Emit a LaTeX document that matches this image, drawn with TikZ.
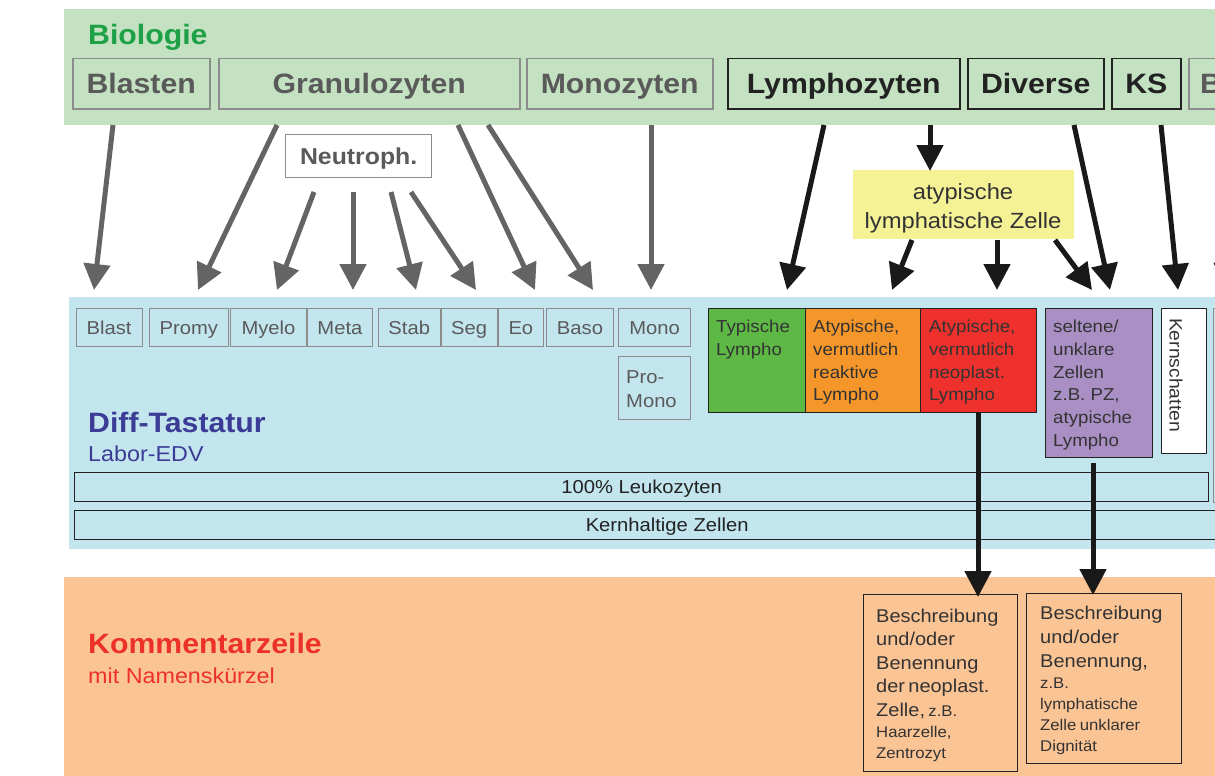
\documentclass[tikz,border=0pt]{standalone}
\usepackage{fontspec}
\setmainfont{Liberation Sans}[FakeStretch=1.08]
\usetikzlibrary{arrows.meta}
\definecolor{gband}{RGB}{196,226,193}
\definecolor{bband}{RGB}{194,229,238}
\definecolor{oband}{RGB}{251,196,149}
\definecolor{bioc}{RGB}{30,160,70}
\definecolor{diffc}{RGB}{60,60,150}
\definecolor{komc}{RGB}{236,50,40}
\definecolor{gtext}{RGB}{90,90,90}
\definecolor{gline}{RGB}{140,140,140}
\definecolor{dtext}{RGB}{34,34,34}
\definecolor{arrg}{RGB}{100,100,100}
\definecolor{arrk}{RGB}{25,25,25}
\definecolor{cgreen}{RGB}{94,184,70}
\definecolor{corange}{RGB}{245,150,42}
\definecolor{cred}{RGB}{238,49,44}
\definecolor{cpurple}{RGB}{169,143,196}
\definecolor{cyellow}{RGB}{245,242,150}
\definecolor{boxt}{RGB}{51,51,51}
\newcommand\myfs[2]{\fontsize{#1}{#2}\selectfont}
\begin{document}
\begin{tikzpicture}[x=1pt,y=-1pt,
  bigbox/.style={draw=gline, line width=1.5pt, inner sep=0pt, anchor=north west,
     font=\myfs{28}{32}\bfseries, text=gtext, text height=20pt, text depth=0pt},
  bigdark/.style={bigbox, draw=dtext, text=dtext},
  smallbox/.style={draw=gline, line width=1.3pt, inner sep=0pt, anchor=north west,
     font=\myfs{18.7}{22}, text=gtext, text height=13.4pt, text depth=0pt},
  barbox/.style={draw=dtext, line width=1.3pt, inner sep=0pt, anchor=north west,
     font=\myfs{18.7}{22}, text=dtext, text height=13.4pt, text depth=0pt},
  colbox/.style={draw=dtext, line width=1.3pt, inner sep=0pt, anchor=north west},
  coltext/.style={inner sep=0pt, anchor=north west, align=left,
     font=\myfs{17.3}{22.7}, text=boxt},
  komtext/.style={inner sep=0pt, anchor=north west, align=left, text width=150pt, text=boxt},
  title/.style={inner sep=0pt, anchor=base west, font=\myfs{28}{32}\bfseries},
  subtitle/.style={inner sep=0pt, anchor=base west, font=\myfs{21.6}{25}},
  garrow/.style={draw=arrg, line width=5pt, -{Triangle[width=26pt,length=26pt]}},
  karrow/.style={draw=arrk, line width=5pt, -{Triangle[width=26pt,length=26pt]}},
]
\useasboundingbox (0,0) rectangle (1215,776);
\clip (0,0) rectangle (1215,776);

% bands
\fill[gband] (64,9) rectangle (1270,125);
\fill[bband] (69,297) rectangle (1270,549);
\fill[oband] (64,577) rectangle (1270,790);

% Biologie
\node[title, text=bioc] (bio) at (88,45) {Biologie};
\node[bigbox, minimum width=137pt, minimum height=50pt] (blasten) at (72,58) {Blasten};
\node[bigbox, minimum width=301pt, minimum height=50pt] (granu) at (218,58) {Granulozyten};
\node[bigbox, minimum width=186pt, minimum height=50pt] (mono) at (526,58) {Monozyten};
\node[bigdark, minimum width=232pt, minimum height=50pt] (lympho) at (727,58) {Lymphozyten};
\node[bigdark, minimum width=136pt, minimum height=50pt] (diverse) at (967,58) {Diverse};
\node[bigdark, minimum width=69pt, minimum height=50pt] (ks) at (1111,58) {KS};
\node[bigbox, minimum width=80pt, minimum height=50pt] (bcut) at (1188,58) {};
\node[title, text=gtext] (bcuttext) at (1200,93.4) {B};

% Neutroph
\node[draw=gline, line width=1.3pt, fill=white, inner sep=0pt, anchor=north west,
  minimum width=146pt, minimum height=43pt, font=\myfs{23}{26}\bfseries, text=gtext,
  text height=16.5pt, text depth=0pt] (neutro) at (285,134) {Neutroph.};

% yellow box
\node[fill=cyellow, inner sep=0pt, anchor=north west, minimum width=221pt, minimum height=69pt] (yel) at (853,170) {};
\node[inner sep=0pt, anchor=north, align=center, font=\myfs{22}{29}, text=boxt] (yeltxt) at (963,183.5) {atypische\\lymphatische Zelle};

% Diff-Tastatur small boxes
\node[smallbox, minimum width=66pt, minimum height=38pt] (blast) at (75.5,308) {Blast};
\node[smallbox, minimum width=79pt, minimum height=38pt] (promy) at (148.6,308) {Promy};
\node[smallbox, minimum width=75.7pt, minimum height=38pt] (myelo) at (230,308) {Myelo};
\node[smallbox, minimum width=65.5pt, minimum height=38pt] (meta) at (306.5,308) {Meta};
\node[smallbox, minimum width=62pt, minimum height=38pt] (stab) at (377.6,308) {Stab};
\node[smallbox, minimum width=56.3pt, minimum height=38pt] (seg) at (440.4,308) {Seg};
\node[smallbox, minimum width=45.4pt, minimum height=38pt] (eo) at (497.5,308) {Eo};
\node[smallbox, minimum width=67.3pt, minimum height=38pt] (baso) at (545.7,308) {Baso};
\node[smallbox, minimum width=72pt, minimum height=38pt] (monok) at (618,308) {Mono};
\node[smallbox, minimum width=72pt, minimum height=63pt] (promono) at (618,356) {};
\node[inner sep=0pt, anchor=north west, align=left, font=\myfs{18.7}{24}, text=gtext] (promonotxt) at (626,370.6) {Pro-\\Mono};

% lympho coloured boxes
\node[colbox, fill=cgreen, minimum width=97pt, minimum height=104pt] (typ) at (708,308) {};
\node[colbox, fill=corange, minimum width=115pt, minimum height=104pt] (reakt) at (805,308) {};
\node[colbox, fill=cred, minimum width=116pt, minimum height=104pt] (red) at (920,308) {};
\node[colbox, fill=cpurple, minimum width=107pt, minimum height=149pt] (selten) at (1045,308) {};
\node[colbox, fill=white, minimum width=45pt, minimum height=145pt] (ksch) at (1161,308) {};
\node[draw=gline, line width=1.3pt, inner sep=0pt, anchor=north west, minimum width=60pt, minimum height=194pt] (cutbox) at (1213,308) {};
\node[coltext] (typtxt) at (716,320) {Typische\\Lympho};
\node[coltext] (reakttxt) at (813,320) {Atypische,\\vermutlich\\reaktive\\Lympho};
\node[coltext] (redtxt) at (929,320) {Atypische,\\vermutlich\\neoplast.\\Lympho};
\node[coltext] (seltentxt) at (1053,320) {seltene/\\unklare\\Zellen\\z.B. PZ,\\atypische\\Lympho};
\node[inner sep=0pt, rotate=-90, font=\myfs{17.9}{20}, text=boxt, text height=12.8pt, text depth=0pt] (kschtxt) at (1176,375) {Kernschatten};

% Diff-Tastatur label
\node[title, text=diffc] (diff) at (88,432) {Diff-Tastatur};
\node[subtitle, text=diffc] (labor) at (88,461) {Labor-EDV};

% bars
\node[barbox, minimum width=1134pt, minimum height=29pt] (leuko) at (74,472) {100\% Leukozyten};
\node[barbox, minimum width=1185pt, minimum height=29pt] (kernh) at (74,510) {Kernhaltige Zellen};

% Kommentarzeile
\node[title, text=komc] (kom) at (88,653) {Kommentarzeile};
\node[subtitle, text=komc] (komsub) at (88,683) {mit Namenskürzel};
\node[colbox, minimum width=154pt, minimum height=177pt] (kom1) at (863,594) {};
\node[colbox, minimum width=155pt, minimum height=170pt] (kom2) at (1026,593) {};
\node[komtext] (kom1txt) at (876,608.8) {{\myfs{18.5}{23.5}Beschreibung\\und/oder\\Benennung\\der neoplast.\\Zelle, {\myfs{15.5}{21}z.B.}\par}{\myfs{15.5}{21}Haarzelle,\\Zentrozyt\par}};
\node[komtext] (kom2txt) at (1040,605.8) {{\myfs{18.5}{24}Beschreibung\\und/oder\\Benennung,\par}{\myfs{15.5}{21}z.B.\\lymphatische\\Zelle unklarer\\Dignität\par}};

% coordinates for arrows
\coordinate (s1) at (113,125);  \coordinate (e1) at (94,290);
\coordinate (s2) at (277,125);  \coordinate (e2) at (198,290);
\coordinate (s3) at (314,192);  \coordinate (e3) at (277,290);
\coordinate (s4) at (353,192);  \coordinate (e4) at (353,290);
\coordinate (s5) at (391,192);  \coordinate (e5) at (416,290);
\coordinate (s6) at (411,192);  \coordinate (e6) at (476,290);
\coordinate (s7) at (458,125);  \coordinate (e7) at (535,290);
\coordinate (s8) at (488,125);  \coordinate (e8) at (593,290);
\coordinate (s9) at (651,125);  \coordinate (e9) at (651,290);
\coordinate (t1) at (824,125);  \coordinate (f1) at (787,290);
\coordinate (t2) at (930,125);  \coordinate (f2) at (930,171);
\coordinate (t3) at (912,240);  \coordinate (f3) at (892,290);
\coordinate (t4) at (997,240);  \coordinate (f4) at (997,290);
\coordinate (t5) at (1055,240); \coordinate (f5) at (1092,290);
\coordinate (t6) at (1074,125); \coordinate (f6) at (1110,290);
\coordinate (t7) at (1161,125); \coordinate (f7) at (1178,290);
\coordinate (t8) at (1244,125); \coordinate (f8) at (1224,290);
\coordinate (t9) at (978,412);  \coordinate (f9) at (978,597);
\coordinate (t10) at (1093,463); \coordinate (f10) at (1093,595);

\foreach \i in {1,...,9} \draw[garrow] (s\i) -- (e\i);
\foreach \i in {1,...,10} \draw[karrow] (t\i) -- (f\i);
\end{tikzpicture}
\end{document}
